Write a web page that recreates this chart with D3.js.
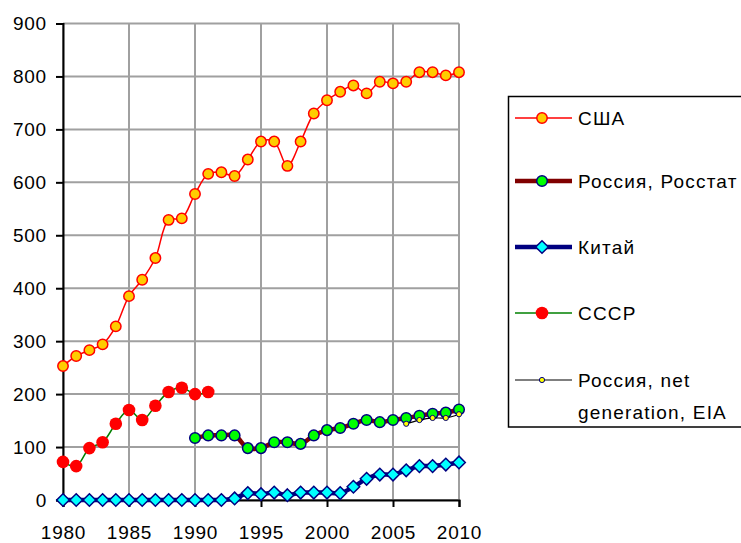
<!DOCTYPE html>
<html>
<head>
<meta charset="utf-8">
<script src="https://cdn.jsdelivr.net/npm/d3@7"></script>
<style>
  body { margin: 0; background: #fff; }
  svg { display: block; font-family: "Liberation Sans", Arial, sans-serif; }
</style>
</head>
<body>
<div id="chart"></div>
<script>
// years and values (TWh)
var yearsFull = [1980,1981,1982,1983,1984,1985,1986,1987,1988,1989,1990,1991,1992,1993,1994,1995,
                 1996,1997,1998,1999,2000,2001,2002,2003,2004,2005,2006,2007,2008,2009,2010];
var usaValues = [253,272,283,294,328,385,416,457,529,532,578,616,619,612,643,677,
                 677,631,677,730,755,771,783,768,790,787,790,808,808,802,808];
var chinaValues = [0,0,0,0,0,0,0,0,0,0,0,0,0,3,13,11,
                   14,9,14,14,14,13,25,40,48,48,56,64,64,67,71];
var ussrYears = [1980,1981,1982,1983,1984,1985,1986,1987,1988,1989,1990,1991];
var ussrValues = [72,64,98,109,144,170,151,178,204,212,200,204];
var russiaYears = [1990,1991,1992,1993,1994,1995,1996,1997,1998,1999,2000,2001,2002,2003,2004,2005,2006,2007,2008,2009,2010];
var russiaValues = [117,122,122,122,98,98,109,109,106,122,132,136,144,151,147,151,155,159,163,165,171];
var eiaYears = [2006,2007,2008,2009,2010];
var eiaValues = [144,151,155,155,162];

var xTicks = [1980,1985,1990,1995,2000,2005,2010];
var yTicks = [0,100,200,300,400,500,600,700,800,900];

function pairs(xs, ys){
	return xs.map(function(d,i){ return {x:d, y:ys[i]}; });
}

var series = [
	{name:"США", data:pairs(yearsFull,usaValues), line:"#ff0000", lw:1.5, marker:"circle", r:5.2, fill:"#ffcc00", stroke:"#ff0000", sw:1.5},
	{name:"Россия, Росстат", data:pairs(russiaYears,russiaValues), line:"#800000", lw:4.5, marker:"circle", r:5.3, fill:"#00ff00", stroke:"#000080", sw:1.5},
	{name:"Китай", data:pairs(yearsFull,chinaValues), line:"#000080", lw:4.5, marker:"diamond", r:6.3, fill:"#00ffff", stroke:"#000080", sw:1.5},
	{name:"СССР", data:pairs(ussrYears,ussrValues), line:"#008000", lw:1.5, marker:"circle", r:6.3, fill:"#ff0000", stroke:"none", sw:0},
	{name:["Россия, net","generation, EIA"], data:pairs(eiaYears,eiaValues), line:"#000000", lw:1.2, marker:"circle", r:2.6, fill:"#ffff00", stroke:"#000080", sw:1}
];

var width = 741, height = 543;
var svg = d3.select("#chart").append("svg")
	.attr("width",width)
	.attr("height",height);

var x = d3.scaleLinear().domain([1980,2010]).range([63,459]);
var y = d3.scaleLinear().domain([0,900]).range([500,23.5]);

// grid
svg.append("g").selectAll("line.h")
	.data(yTicks)
	.enter().append("line")
	.attr("x1",x(1980)).attr("x2",x(2010))
	.attr("y1",function(d){return y(d);}).attr("y2",function(d){return y(d);})
	.attr("stroke","#a0a0a0").attr("stroke-width",2);
svg.append("g").selectAll("line.v")
	.data(xTicks)
	.enter().append("line")
	.attr("y1",y(0)).attr("y2",y(900))
	.attr("x1",function(d){return x(d);}).attr("x2",function(d){return x(d);})
	.attr("stroke","#a0a0a0").attr("stroke-width",2);

// axes
var xAxis = d3.axisBottom(x).tickValues(xTicks).tickFormat(d3.format("d")).tickSizeOuter(0).tickSize(7).tickPadding(19);
var yAxis = d3.axisLeft(y).tickValues(yTicks).tickSizeOuter(0).tickSize(7).tickPadding(9);

var gx = svg.append("g").attr("transform","translate(0,"+y(0)+")").call(xAxis);
var gy = svg.append("g").attr("transform","translate("+x(1980)+",0)").call(yAxis);
[gx,gy].forEach(function(g){
	g.select(".domain").attr("stroke","#000").attr("stroke-width",2);
	g.selectAll(".tick line").attr("stroke","#000").attr("stroke-width",2);
	g.selectAll(".tick text").attr("fill","#000")
		.style("font-size","19px")
		.style("letter-spacing","0.8px")
		.style("font-family","Liberation Sans, Arial, sans-serif");
});

var lineGen = d3.line()
	.x(function(d){return x(d.x);})
	.y(function(d){return y(d.y);})
	.curve(d3.curveCatmullRom.alpha(0.5));

function drawMarker(sel, s){
	if(s.marker==="diamond"){
		sel.append("path")
			.attr("d",function(){ var r=s.r; return "M0,"+(-r)+"L"+r+",0L0,"+r+"L"+(-r)+",0Z"; })
			.attr("fill",s.fill).attr("stroke",s.stroke).attr("stroke-width",s.sw);
	} else {
		sel.append("circle")
			.attr("r",s.r)
			.attr("fill",s.fill).attr("stroke",s.stroke).attr("stroke-width",s.sw);
	}
}

series.forEach(function(s){
	var g = svg.append("g");
	g.append("path")
		.datum(s.data)
		.attr("d",lineGen)
		.attr("fill","none")
		.attr("stroke",s.line)
		.attr("stroke-width",s.lw)
		.attr("stroke-linejoin","round");
	g.selectAll("g.pt")
		.data(s.data)
		.enter().append("g")
		.attr("transform",function(d){return "translate("+x(d.x)+","+y(d.y)+")";})
		.each(function(){ drawMarker(d3.select(this), s); });
});

// legend
var legend = svg.append("g");
legend.append("rect")
	.attr("x",508.5).attr("y",96.5)
	.attr("width",260).attr("height",330.5)
	.attr("fill","#fff").attr("stroke","#000").attr("stroke-width",1.5);

var legendY = [118,181,247,313,380];
series.forEach(function(s,i){
	var item = legend.append("g").attr("transform","translate(0,"+legendY[i]+")");
	item.append("line")
		.attr("x1",515).attr("x2",572)
		.attr("y1",0).attr("y2",0)
		.attr("stroke",s.line).attr("stroke-width",s.lw);
	var m = item.append("g").attr("transform","translate(542,0)");
	drawMarker(m, s);
	var names = Array.isArray(s.name) ? s.name : [s.name];
	names.forEach(function(t,j){
		item.append("text")
			.attr("x",578).attr("y",j*32)
			.attr("dy","0.35em")
			.style("font-size","19px")
			.style("letter-spacing","1.2px")
			.attr("fill","#000")
			.text(t);
	});
});
</script>
</body>
</html>
